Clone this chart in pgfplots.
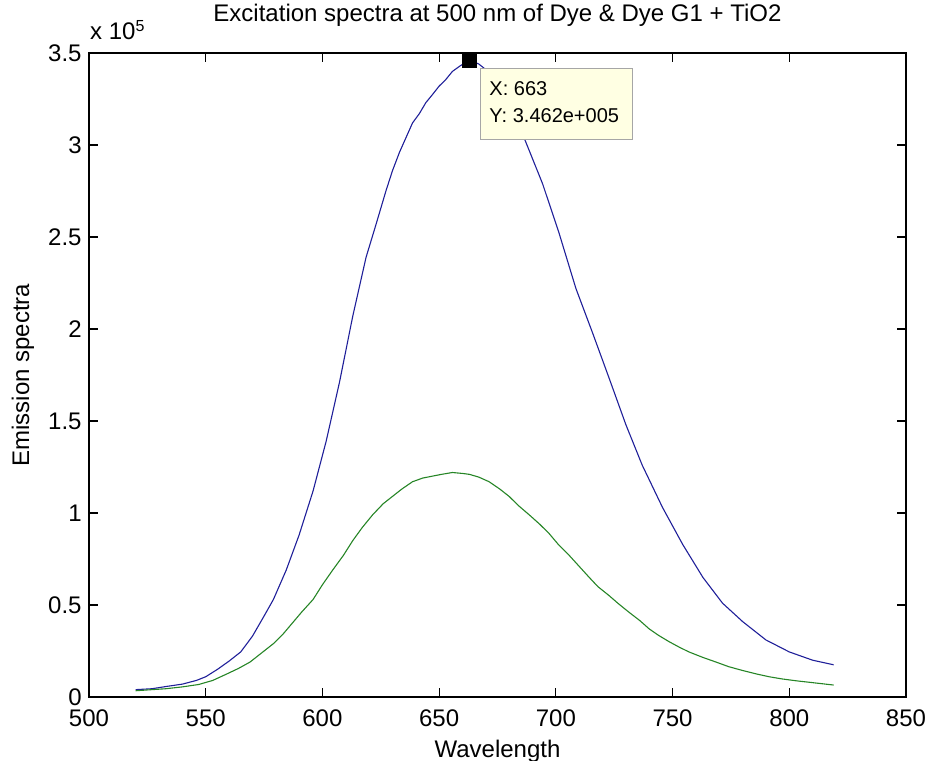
\documentclass[border=0pt]{standalone}
\usepackage{fontspec}
\setmainfont{Liberation Sans}
\usepackage{pgfplots}
\pgfplotsset{compat=1.18}
\definecolor{mblue}{rgb}{0.12,0.12,0.6}
\definecolor{mgreen}{rgb}{0.15,0.52,0.15}
\definecolor{tipbg}{rgb}{1,1,0.89}
\begin{document}
\fontsize{12}{14}\selectfont
\begin{tikzpicture}
\useasboundingbox (-44.5pt,-32pt) rectangle (419.5pt,348.5pt);
\begin{axis}[
  at={(0,0)}, anchor=south west,
  scale only axis, width=408.5pt, height=322pt,
  xmin=500, xmax=850, ymin=0, ymax=350000,
  xtick={500,550,...,850},
  ytick={0,50000,100000,150000,200000,250000,300000,350000},
  yticklabels={0,0.5,1,1.5,2,2.5,3,3.5},
  scaled y ticks=false, scaled x ticks=false,
  tick align=inside, major tick length=4.5pt,
  axis line style={line width=0.8pt},
  every tick/.style={black, line width=0.6pt},
  tick label style={font=\fontsize{12}{14}\selectfont},
  /pgf/number format/assume math mode=true,
  /pgf/number format/1000 sep={},
  xticklabel style={anchor=center, inner sep=0pt, yshift=-10.5pt},
  yticklabel style={anchor=east, inner sep=0pt, xshift=-3.5pt},
  xlabel={Wavelength},
  xlabel style={at={(axis description cs:0.5,-0.0932)}, anchor=base, inner sep=0pt, font=\fontsize{12}{14}\selectfont},
  ylabel={Emission spectra},
  ylabel style={at={(axis description cs:-0.0734,0.5)}, anchor=base, inner sep=0pt, font=\fontsize{12}{14}\selectfont},
  title={Excitation spectra at 500 nm of Dye \& Dye G1 + TiO2},
  title style={at={(axis description cs:0.5,1.031)}, anchor=base, inner sep=0pt, font=\fontsize{12}{14}\selectfont},
  clip=false,
]
\addplot[mblue, line width=0.55pt] coordinates {
(520,4000) (527,4500) (533,5700) (540,7000) (546,9000) (550,11000) (555,15000)
(560,19500) (565,24500) (570,33000) (575,44000) (579,53000) (584.5,69000)
(590,88000) (596,112000) (601.6,139000) (607.3,171000) (613,207000)
(618.7,239000) (623,257000) (627.2,275000) (630,286000) (633,296000)
(635.8,304000) (638.6,312000) (641.5,317000) (644.3,323000) (647.2,327500)
(650,332000) (652.8,335500) (655.7,340000) (659,343000) (663,346200)
(667,344000) (672,339000) (677,329000) (682,316000) (687,302000)
(694.3,279000) (701.4,252000) (708.6,222000) (715.7,198000) (722.9,173000)
(730,148000) (737,126000) (745.7,103000) (754.3,83000) (763,65000)
(771.4,51000) (780,41000) (790,31000) (800,24500) (810,20000) (819,17500)
};
\addplot[mgreen, line width=0.55pt] coordinates {
(520,3400) (527,4000) (533,4500) (540,5500) (547,6800) (553,9000) (559,12500)
(564,15500) (569,19000) (574,24000) (579,29000) (583,34000) (587,40000)
(591,46000) (596,53000) (600,61000) (604.4,69000) (609,77000) (613,85000)
(617,92000) (621.5,99000) (626,105000) (630,109000) (634,113000)
(638.6,117000) (643,119000) (647,120000) (651,121000) (655.7,122000)
(660,121500) (663,121000) (667,119500) (671.4,117000) (676,113000)
(680,109000) (684,104000) (688.6,99000) (693,94000) (697,89000) (701,83000)
(705.7,77000) (710,71000) (714.3,65000) (718,60000) (722.9,55000)
(727,50500) (731.4,46000) (736,41500) (740,37000) (744,33500) (748.6,30000)
(753,27000) (757,24500) (763,21500) (768.6,19000) (774,16500) (780,14400)
(786,12500) (791.4,11000) (797,9800) (803,8800) (810,7800) (819,6500)
};
\addplot[only marks, mark=square*, mark size=3.5pt, black] coordinates {(663,346200)};
\draw[fill=tipbg, draw=black!35, line width=0.4pt] (axis cs:667.5,341800) rectangle (axis cs:732.6,303300);
\node[anchor=west, inner sep=0pt, font=\fontsize{10}{12}\selectfont] at (axis cs:671.4,330400) {X: 663};
\node[anchor=west, inner sep=0pt, font=\fontsize{10}{12}\selectfont] at (axis cs:671.4,315800) {Y: 3.462e+005};
\node[anchor=base west, inner sep=0pt, font=\fontsize{12}{14}\selectfont] at (axis description cs:0.001,1.0202) {x 10\textsuperscript{5}};
\end{axis}
\end{tikzpicture}
\end{document}
